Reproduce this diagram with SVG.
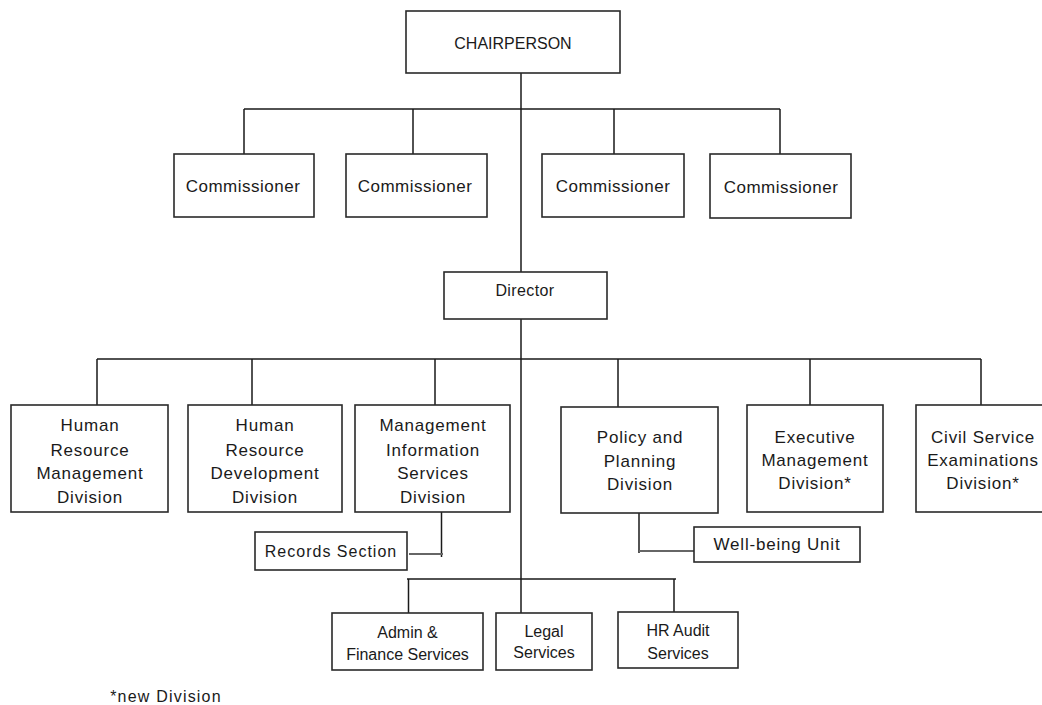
<svg xmlns="http://www.w3.org/2000/svg" width="1042" height="705" viewBox="0 0 1042 705">
<style>
.box{fill:#fff;stroke:#2a2a2a;stroke-width:1.6}
.ln{fill:none;stroke:#1a1a1a;stroke-width:1.5}
.gl{fill:none;stroke:#666;stroke-width:1.8}
text{font-family:"Liberation Sans",Arial,sans-serif;fill:#1a1a1a;text-anchor:middle}
.t16{font-size:16px}
.t17{font-size:17px;letter-spacing:0.8px}
.tc{font-size:17px;letter-spacing:0.5px}
.tr{font-size:16px;letter-spacing:1px}
</style>
<rect width="1042" height="705" fill="#fff"/>
<g id="connectors">
<path class="ln" d="M521 73V613"/>
<path class="ln" d="M244 109H780M244 109V154M413 109V154M614 109V154M780 109V154"/>
<path class="ln" d="M97 359H981M97 359V405M252 359V405M435 359V405M618 359V407M810 359V405M981 359V405"/>
<path class="ln" d="M407 579H676M408.5 579V613M674 579V612"/>
<path class="ln" d="M441.5 512V557"/>
<path class="gl" d="M409 554H443"/>
<path class="ln" d="M639 513V553"/>
<path class="gl" d="M639 551H697"/>
</g>
<g id="chairperson"><rect class="box" x="406" y="11" width="214" height="62"/><text class="t16" x="513" y="49">CHAIRPERSON</text></g>
<g id="commissioner1"><rect class="box" x="174" y="154" width="140" height="63"/><text class="tc" x="243" y="192">Commissioner</text></g>
<g id="commissioner2"><rect class="box" x="346" y="154" width="141" height="63"/><text class="tc" x="415" y="192">Commissioner</text></g>
<g id="commissioner3"><rect class="box" x="542" y="154" width="142" height="63"/><text class="tc" x="613" y="192">Commissioner</text></g>
<g id="commissioner4"><rect class="box" x="710" y="154" width="141" height="64"/><text class="tc" x="781" y="193">Commissioner</text></g>
<g id="director"><rect class="box" x="444" y="272" width="163" height="47"/><text class="t16" x="525" y="296" letter-spacing="0.4">Director</text></g>
<g id="hrm"><rect class="box" x="11" y="405" width="157" height="107"/>
<text class="t17" x="90" y="431">Human</text><text class="t17" x="90" y="456">Resource</text><text class="t17" x="90" y="479">Management</text><text class="t17" x="90" y="503">Division</text></g>
<g id="hrd"><rect class="box" x="188" y="405" width="154" height="107"/>
<text class="t17" x="265" y="431">Human</text><text class="t17" x="265" y="456">Resource</text><text class="t17" x="265" y="479">Development</text><text class="t17" x="265" y="503">Division</text></g>
<g id="mis"><rect class="box" x="355" y="405" width="155" height="107"/>
<text class="t17" x="433" y="431">Management</text><text class="t17" x="433" y="456">Information</text><text class="t17" x="433" y="479">Services</text><text class="t17" x="433" y="503">Division</text></g>
<g id="policy"><rect class="box" x="561" y="407" width="157" height="106"/>
<text class="t17" x="640" y="443">Policy and</text><text class="t17" x="640" y="467">Planning</text><text class="t17" x="640" y="490">Division</text></g>
<g id="executive"><rect class="box" x="747" y="405" width="136" height="107"/>
<text class="t17" x="815" y="443">Executive</text><text class="t17" x="815" y="466">Management</text><text class="t17" x="815" y="489">Division*</text></g>
<g id="civil"><rect class="box" x="916" y="405" width="140" height="107"/>
<text class="t17" x="983" y="443" letter-spacing="0.4">Civil Service</text><text class="t17" x="983" y="466" letter-spacing="0.3">Examinations</text><text class="t17" x="983" y="489">Division*</text></g>
<g id="records"><rect class="box" x="255" y="532" width="152" height="38"/><text class="tr" x="331" y="557">Records Section</text></g>
<g id="wellbeing"><rect class="box" x="694" y="527" width="166" height="35"/><text class="t17" x="777" y="550">Well-being Unit</text></g>
<g id="admin"><rect class="box" x="332" y="613" width="151" height="57"/><text class="t16" x="407.5" y="638">Admin &amp;</text><text class="t16" x="407.5" y="660">Finance Services</text></g>
<g id="legal"><rect class="box" x="496" y="613" width="96" height="57"/><text class="t16" x="544" y="637">Legal</text><text class="t16" x="544" y="658">Services</text></g>
<g id="hraudit"><rect class="box" x="618" y="612" width="120" height="56"/><text class="t16" x="678" y="636">HR Audit</text><text class="t16" x="678" y="659">Services</text></g>
<text x="166" y="702" font-size="16" letter-spacing="1.2">*new Division</text>
</svg>
